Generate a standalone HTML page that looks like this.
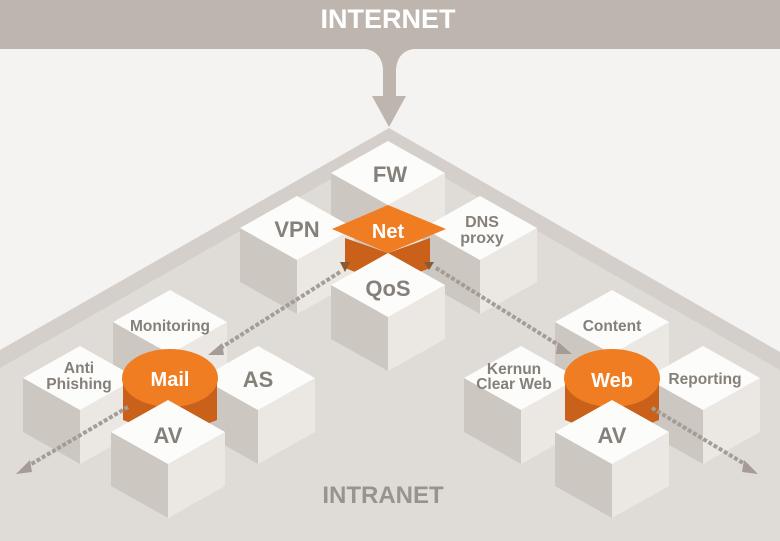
<!DOCTYPE html>
<html><head><meta charset="utf-8"><style>
html,body{margin:0;padding:0;background:#f4f3f1;}
svg{display:block;}
text{font-family:"Liberation Sans",sans-serif;font-weight:bold;}
</style></head><body>
<svg width="780" height="541" viewBox="0 0 780 541" xmlns="http://www.w3.org/2000/svg">
<rect width="780" height="541" fill="#f4f3f1"/>
<polygon points="389,128 780,352 780,541 0,541 0,350" fill="#d4cfca"/>
<polygon points="389,146 780,370 780,541 0,541 0,368" fill="#dfdcd8"/>
<rect x="0" y="0" width="780" height="49" fill="#beb6ae"/>
<text x="388" y="28" font-size="27" fill="#ffffff" text-anchor="middle">INTERNET</text>
<path d="M366,49 Q382,52 383,70 L383,96 L372,96 L389,127 L406,96 L396,96 L396,70 Q397,52 413,49 Z" fill="#beb6ae"/>
<text x="383" y="503" font-size="24" fill="#9a938c" text-anchor="middle">INTRANET</text>

<defs>
<g id="cube">
<polygon points="-57,0 0,32 0,86 -57,54" fill="#cdc7c1"/>
<polygon points="57,0 0,32 0,86 57,54" fill="#ebe8e4"/>
<polygon points="0,-32 57,0 0,32 -57,0" fill="#fcfcfb"/>
</g>
</defs>

<use href="#cube" x="388" y="173"/>
<use href="#cube" x="297" y="228"/>
<use href="#cube" x="480" y="228"/>
<polygon points="345,238 388,253 430,238 430,268 388,285 345,268" fill="#c9611b"/>
<polygon points="332,229 388,205 446,229 388,253" fill="#f07d22"/>
<use href="#cube" x="388" y="285"/>
<text x="297" y="237" font-size="22" fill="#858079" text-anchor="middle">VPN</text>
<text x="390" y="182" font-size="22" fill="#858079" text-anchor="middle">FW</text>
<text x="482" y="227" font-size="16" fill="#858079" text-anchor="middle">DNS</text>
<text x="482" y="243" font-size="16" fill="#858079" text-anchor="middle">proxy</text>
<text x="388" y="238" font-size="20" fill="#ffffff" text-anchor="middle">Net</text>
<text x="388" y="296" font-size="22" fill="#858079" text-anchor="middle">QoS</text>

<use href="#cube" x="170" y="322"/>
<use href="#cube" x="80" y="378"/>
<use href="#cube" x="258" y="378"/>
<path d="M123,378 L123,420 Q170,440 217,420 L217,378 Z" fill="#c9611b"/>
<ellipse cx="170" cy="378" rx="48" ry="29" fill="#f07d22"/>
<use href="#cube" x="168" y="432"/>
<text x="170" y="331" font-size="15.5" fill="#858079" text-anchor="middle">Monitoring</text>
<text x="79" y="373" font-size="15.5" fill="#858079" text-anchor="middle">Anti</text>
<text x="79" y="389" font-size="15.5" fill="#858079" text-anchor="middle">Phishing</text>
<text x="258" y="387" font-size="22" fill="#858079" text-anchor="middle">AS</text>
<text x="170" y="386" font-size="20" fill="#ffffff" text-anchor="middle">Mail</text>
<text x="168" y="443" font-size="22" fill="#858079" text-anchor="middle">AV</text>

<use href="#cube" x="612" y="322"/>
<use href="#cube" x="521" y="378"/>
<use href="#cube" x="703" y="378"/>
<path d="M565,378 L565,420 Q612,440 659,420 L659,378 Z" fill="#c9611b"/>
<ellipse cx="612" cy="378" rx="48" ry="29" fill="#f07d22"/>
<use href="#cube" x="612" y="432"/>
<text x="612" y="331" font-size="15.5" fill="#858079" text-anchor="middle">Content</text>
<text x="514" y="374" font-size="15.5" fill="#858079" text-anchor="middle">Kernun</text>
<text x="514" y="389" font-size="15.5" fill="#858079" text-anchor="middle">Clear Web</text>
<text x="705" y="384" font-size="15.5" fill="#858079" text-anchor="middle">Reporting</text>
<text x="612" y="387" font-size="20" fill="#ffffff" text-anchor="middle">Web</text>
<text x="612" y="443" font-size="22" fill="#858079" text-anchor="middle">AV</text>

<g stroke="#a49c95" stroke-width="4" stroke-dasharray="4 2" fill="none">
<line x1="340" y1="272" x2="222" y2="347"/>
<line x1="436" y1="268" x2="560" y2="346"/>
<line x1="128" y1="407" x2="28" y2="466"/>
<line x1="652" y1="408" x2="748" y2="466"/>
</g>
<g fill="#a49c95">
<polygon points="208,355 222,343 224,355"/>
<polygon points="572,354 558,342 556,354"/>
<polygon points="16,474 30,460 32,472"/>
<polygon points="758,474 744,460 742,472"/>
</g>
<polygon points="340,262 350,262 345,272" fill="#8c5a32"/>
<polygon points="424,262 434,262 429,270" fill="#8c5a32"/>
</svg>
</body></html>
